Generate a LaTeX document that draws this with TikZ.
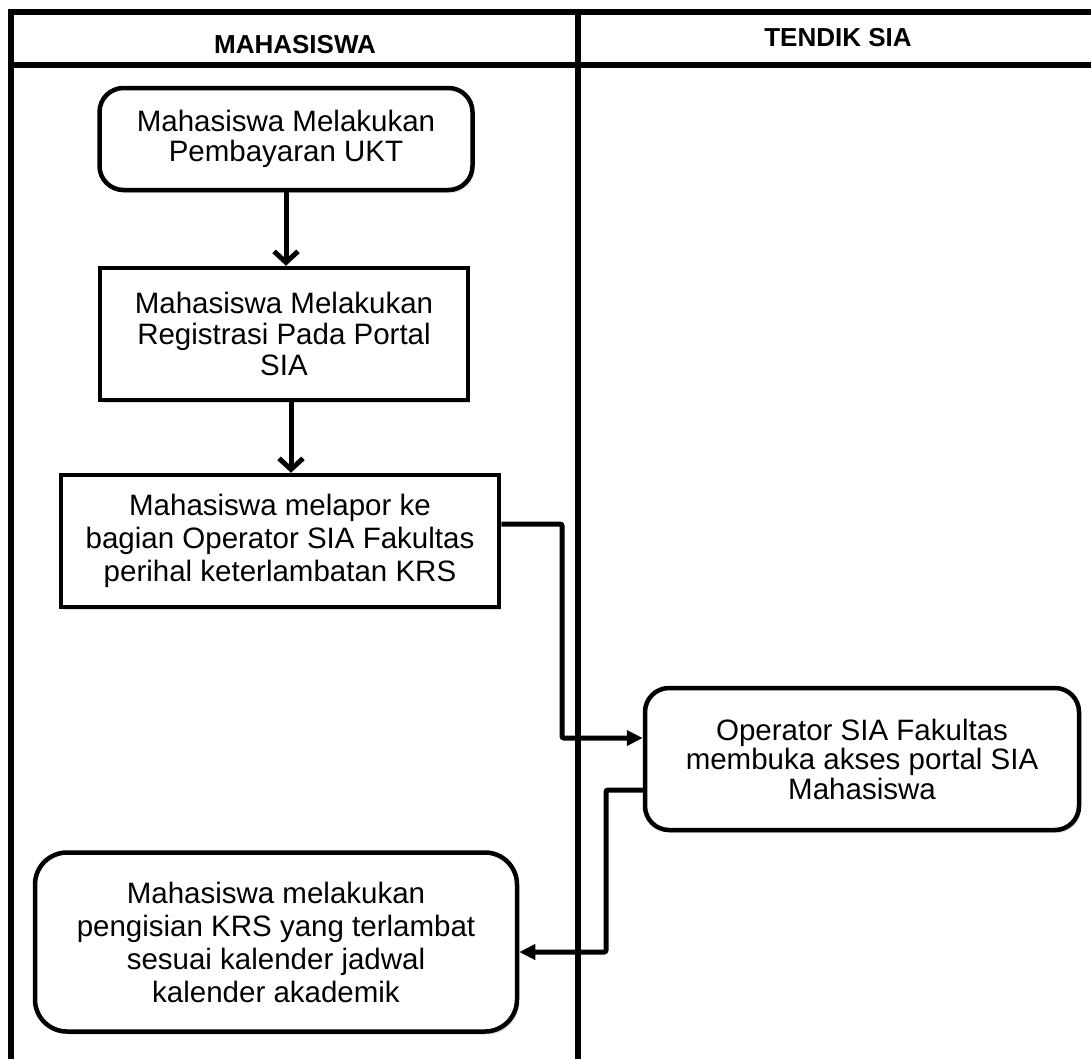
\documentclass[tikz,border=0pt]{standalone}
\usepackage{fontspec}
\setmainfont{Liberation Sans}
\usetikzlibrary{arrows.meta,shadows,calc}
\begin{document}
\begin{tikzpicture}[x=1pt,y=-1pt,
  frame/.style={line width=6pt},
  stepbox/.style={draw, line width=4.5pt, fill=white, align=center,
    font=\fontsize{29.5}{32}\selectfont, inner sep=0pt,
    drop shadow={shadow xshift=2pt,shadow yshift=-3pt,opacity=0.25}},
  roundbox/.style={stepbox, rounded corners=24pt},
  lanehead/.style={font=\bfseries\fontsize{26}{28}\selectfont},
  varrow/.style={line width=5pt, -{Straight Barb[length=11pt,width=24pt]}},
  harrow/.style={line width=5pt, -{Triangle[length=16pt,width=15pt]}},
]
\useasboundingbox (0,0) rectangle (1091,1058);
\fill[white] (0,0) rectangle (1091,1058);

% swimlane frame
\coordinate (tl) at (8,12);
\coordinate (tr) at (1095,12);
\coordinate (hl) at (8,65);
\coordinate (hr) at (1095,65);
\coordinate (lt) at (11,9);
\coordinate (lb) at (11,1062);
\coordinate (dt) at (578,9);
\coordinate (db) at (578,1062);
\draw[frame] (tl) -- (tr);
\draw[frame] (hl) -- (hr);
\draw[frame] (lt) -- (lb);
\draw[frame] (dt) -- (db);

\node[lanehead] (h1) at (295,45) {MAHASISWA};
\node[lanehead] (h2) at (838,38) {TENDIK SIA};

% boxes
\node[roundbox, font=\fontsize{29.5}{30}\selectfont, minimum width=373pt, minimum height=102pt] (b1) at (286,139)
  {Mahasiswa Melakukan\\Pembayaran UKT};
\node[stepbox, font=\fontsize{29.5}{31}\selectfont, minimum width=368pt, minimum height=132pt] (b2) at (284,334)
  {Mahasiswa Melakukan\\Registrasi Pada Portal\\SIA};
\node[stepbox, font=\fontsize{29.5}{33}\selectfont, minimum width=438pt, minimum height=132pt] (b3) at (280,541)
  {Mahasiswa melapor ke\\bagian Operator SIA Fakultas\\perihal keterlambatan KRS};
\node[roundbox, font=\fontsize{29.5}{29.5}\selectfont, minimum width=434pt, minimum height=142pt] (b4) at (862,759)
  {Operator SIA Fakultas\\membuka akses portal SIA\\Mahasiswa};
\node[roundbox, font=\fontsize{29.5}{33}\selectfont, rounded corners=32pt, minimum width=482pt, minimum height=179pt] (b5) at (276,942)
  {Mahasiswa melakukan\\pengisian KRS yang terlambat\\sesuai kalender jadwal\\kalender akademik};

% connectors
\draw[varrow] (b1.south) -- (b1.south |- b2.north);
\draw[varrow] ($(b2.south)+(7,0)$) -- ($(b2.south |- b3.north)+(7,0)$);

\coordinate (c1) at (b3.east |- 0,524);
\coordinate (c2) at (562,524);
\coordinate (c3) at (562,738);
\draw[harrow, rounded corners=2pt] (c1) -- (c2) -- (c3) -- (c3 -| b4.west);

\coordinate (d1) at (b4.west |- 0,790);
\coordinate (d2) at (606,790);
\coordinate (d3) at (606,952);
\draw[harrow, rounded corners=2pt] (d1) -- (d2) -- (d3) -- (d3 -| b5.east);
\end{tikzpicture}
\end{document}
